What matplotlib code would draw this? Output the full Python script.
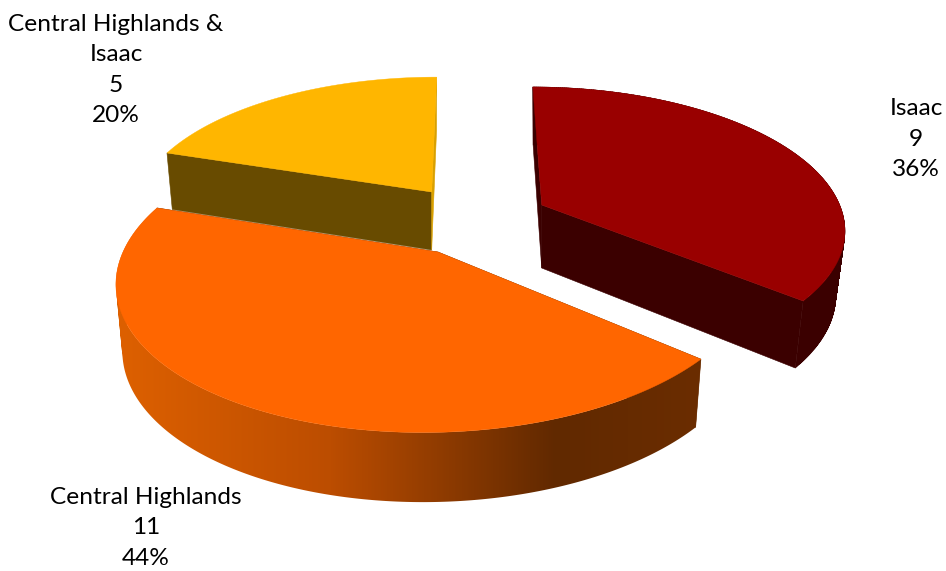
import numpy as np
import matplotlib
matplotlib.use("Agg")
import matplotlib.pyplot as plt
from matplotlib.colors import LinearSegmentedColormap, to_rgb
from matplotlib.patches import PathPatch, Polygon
from matplotlib.path import Path

categories = ["Isaac", "Central Highlands", "Central Highlands &\nIsaac"]
values = [9, 11, 5]
top_colors = ["#990000", "#FF6600", "#FFB600"]
rim_colors = ["#3B0000", "ramp", None]
start_face_colors = ["#3B0000", "#6B2D00", "#684B00"]
end_face_colors = ["#3B0000", "#6B2D00", "#D9A000"]

# Colour of the shaded orange rim, as a function of screen x
rim_ramp_x = [120, 330, 555, 700]
rim_ramp_c = ["#DD6000", "#BC4D00", "#612900", "#6B2D00"]

# Per-slice view: tip position, ellipse radii, perspective, shear, extrusion
views = [
    dict(tip=(541.7, 205), a=298, b=136, k=0.152, shear=0.075, d0=63, d1=0.042, s=0.97),
    dict(tip=(438, 252), a=315, b=150, k=0.169, shear=-0.085, d0=66, d1=0.020, s=0.98),
    dict(tip=(431.7, 192), a=293, b=132, k=0.149, shear=-0.043, d0=58, d1=0.040, s=0.98),
]
label_pos = [(916, 139), (146, 528), (116, 70)]
draw_order = [2, 0, 1]

fig = plt.figure(figsize=(9.46, 5.71), dpi=100)
ax = fig.add_axes([0, 0, 1, 1])


def project(t, view):
    """Top-face point for clockwise angle t, relative to the slice tip."""
    u, v = np.sin(t), np.cos(t)
    w = 1 + view["k"] * v
    y = -view["b"] * v / w
    x = view["a"] * u / w + view["shear"] * y
    return x, y


def top_point(t, view):
    x, y = project(t, view)
    return np.column_stack([view["tip"][0] + x, view["tip"][1] + y])


def base_point(t, view):
    x, y = project(t, view)
    return np.column_stack([
        view["tip"][0] + view["s"] * x,
        view["tip"][1] + y + view["d0"] + view["d1"] * y,
    ])


def radial_face(t, view, color, z):
    tip = np.array(view["tip"], dtype=float)
    top = top_point(np.array([t]), view)[0]
    base = base_point(np.array([t]), view)[0]
    tip_base = tip + [0, view["d0"]]
    ax.add_patch(Polygon([tip, top, base, tip_base], closed=True,
                         facecolor=color, edgecolor=color, lw=0.4, zorder=z))


def rim_path(top, base):
    """Union of the swept rim quads, all wound the same way."""
    verts, codes = [], []
    for i in range(len(top) - 1):
        quad = np.array([top[i], top[i + 1], base[i + 1], base[i]])
        x, y = quad[:, 0], quad[:, 1]
        area = np.dot(x, np.roll(y, -1)) - np.dot(y, np.roll(x, -1))
        if area < 0:
            quad = quad[::-1]
        verts.extend(list(quad) + [quad[0]])
        codes.extend([Path.MOVETO, Path.LINETO, Path.LINETO, Path.LINETO, Path.CLOSEPOLY])
    return Path(np.array(verts), codes)


def shaded_rim(path, z):
    """Fill the rim with the horizontal colour ramp, held flat past its ends."""
    x0, x1 = 0, 946
    xs = [x0] + rim_ramp_x + [x1]
    cs = [rim_ramp_c[0]] + rim_ramp_c + [rim_ramp_c[-1]]
    stops = [(x - x0) / (x1 - x0) for x in xs]
    cmap = LinearSegmentedColormap.from_list(
        "rim", [(p, to_rgb(c)) for p, c in zip(stops, cs)], N=1024)
    gradient = np.linspace(0, 1, 946).reshape(1, -1)
    clip = PathPatch(path, transform=ax.transData, facecolor="none", edgecolor="none")
    ax.add_patch(clip)
    im = ax.imshow(gradient, cmap=cmap, aspect="auto", interpolation="bilinear",
                   extent=(x0, x1, 571, 0), zorder=z)
    im.set_clip_path(clip)


total = sum(values)
edges = np.radians(np.concatenate([[0], np.cumsum(values)]) / total * 360)

for rank, idx in enumerate(draw_order):
    view = views[idx]
    t0, t1 = edges[idx], edges[idx + 1]
    z = 2 + rank * 5
    ts = np.linspace(t0, t1, 300)
    top = top_point(ts, view)
    base = base_point(ts, view)

    radial_face(t0, view, start_face_colors[idx], z)
    radial_face(t1, view, end_face_colors[idx], z)

    if rim_colors[idx] == "ramp":
        shaded_rim(rim_path(top, base), z + 1)
    elif rim_colors[idx] is not None:
        ax.add_patch(PathPatch(rim_path(top, base), facecolor=rim_colors[idx],
                               edgecolor=rim_colors[idx], lw=0.3, zorder=z + 1))

    ax.add_patch(Polygon(np.vstack([[view["tip"]], top]), closed=True,
                         facecolor=top_colors[idx], edgecolor=top_colors[idx],
                         lw=0.3, zorder=z + 2))

for name, value, (x, y) in zip(categories, values, label_pos):
    share = round(value / total * 100)
    ax.text(x, y, f"{name}\n{value}\n{share}%", ha="center", va="center",
            family="Lato", fontsize=17.6, linespacing=1.53, color="black", zorder=30)

ax.set_xlim(0, 946)
ax.set_ylim(571, 0)
ax.axis("off")
fig.savefig("out.png", dpi=100, facecolor="white")
